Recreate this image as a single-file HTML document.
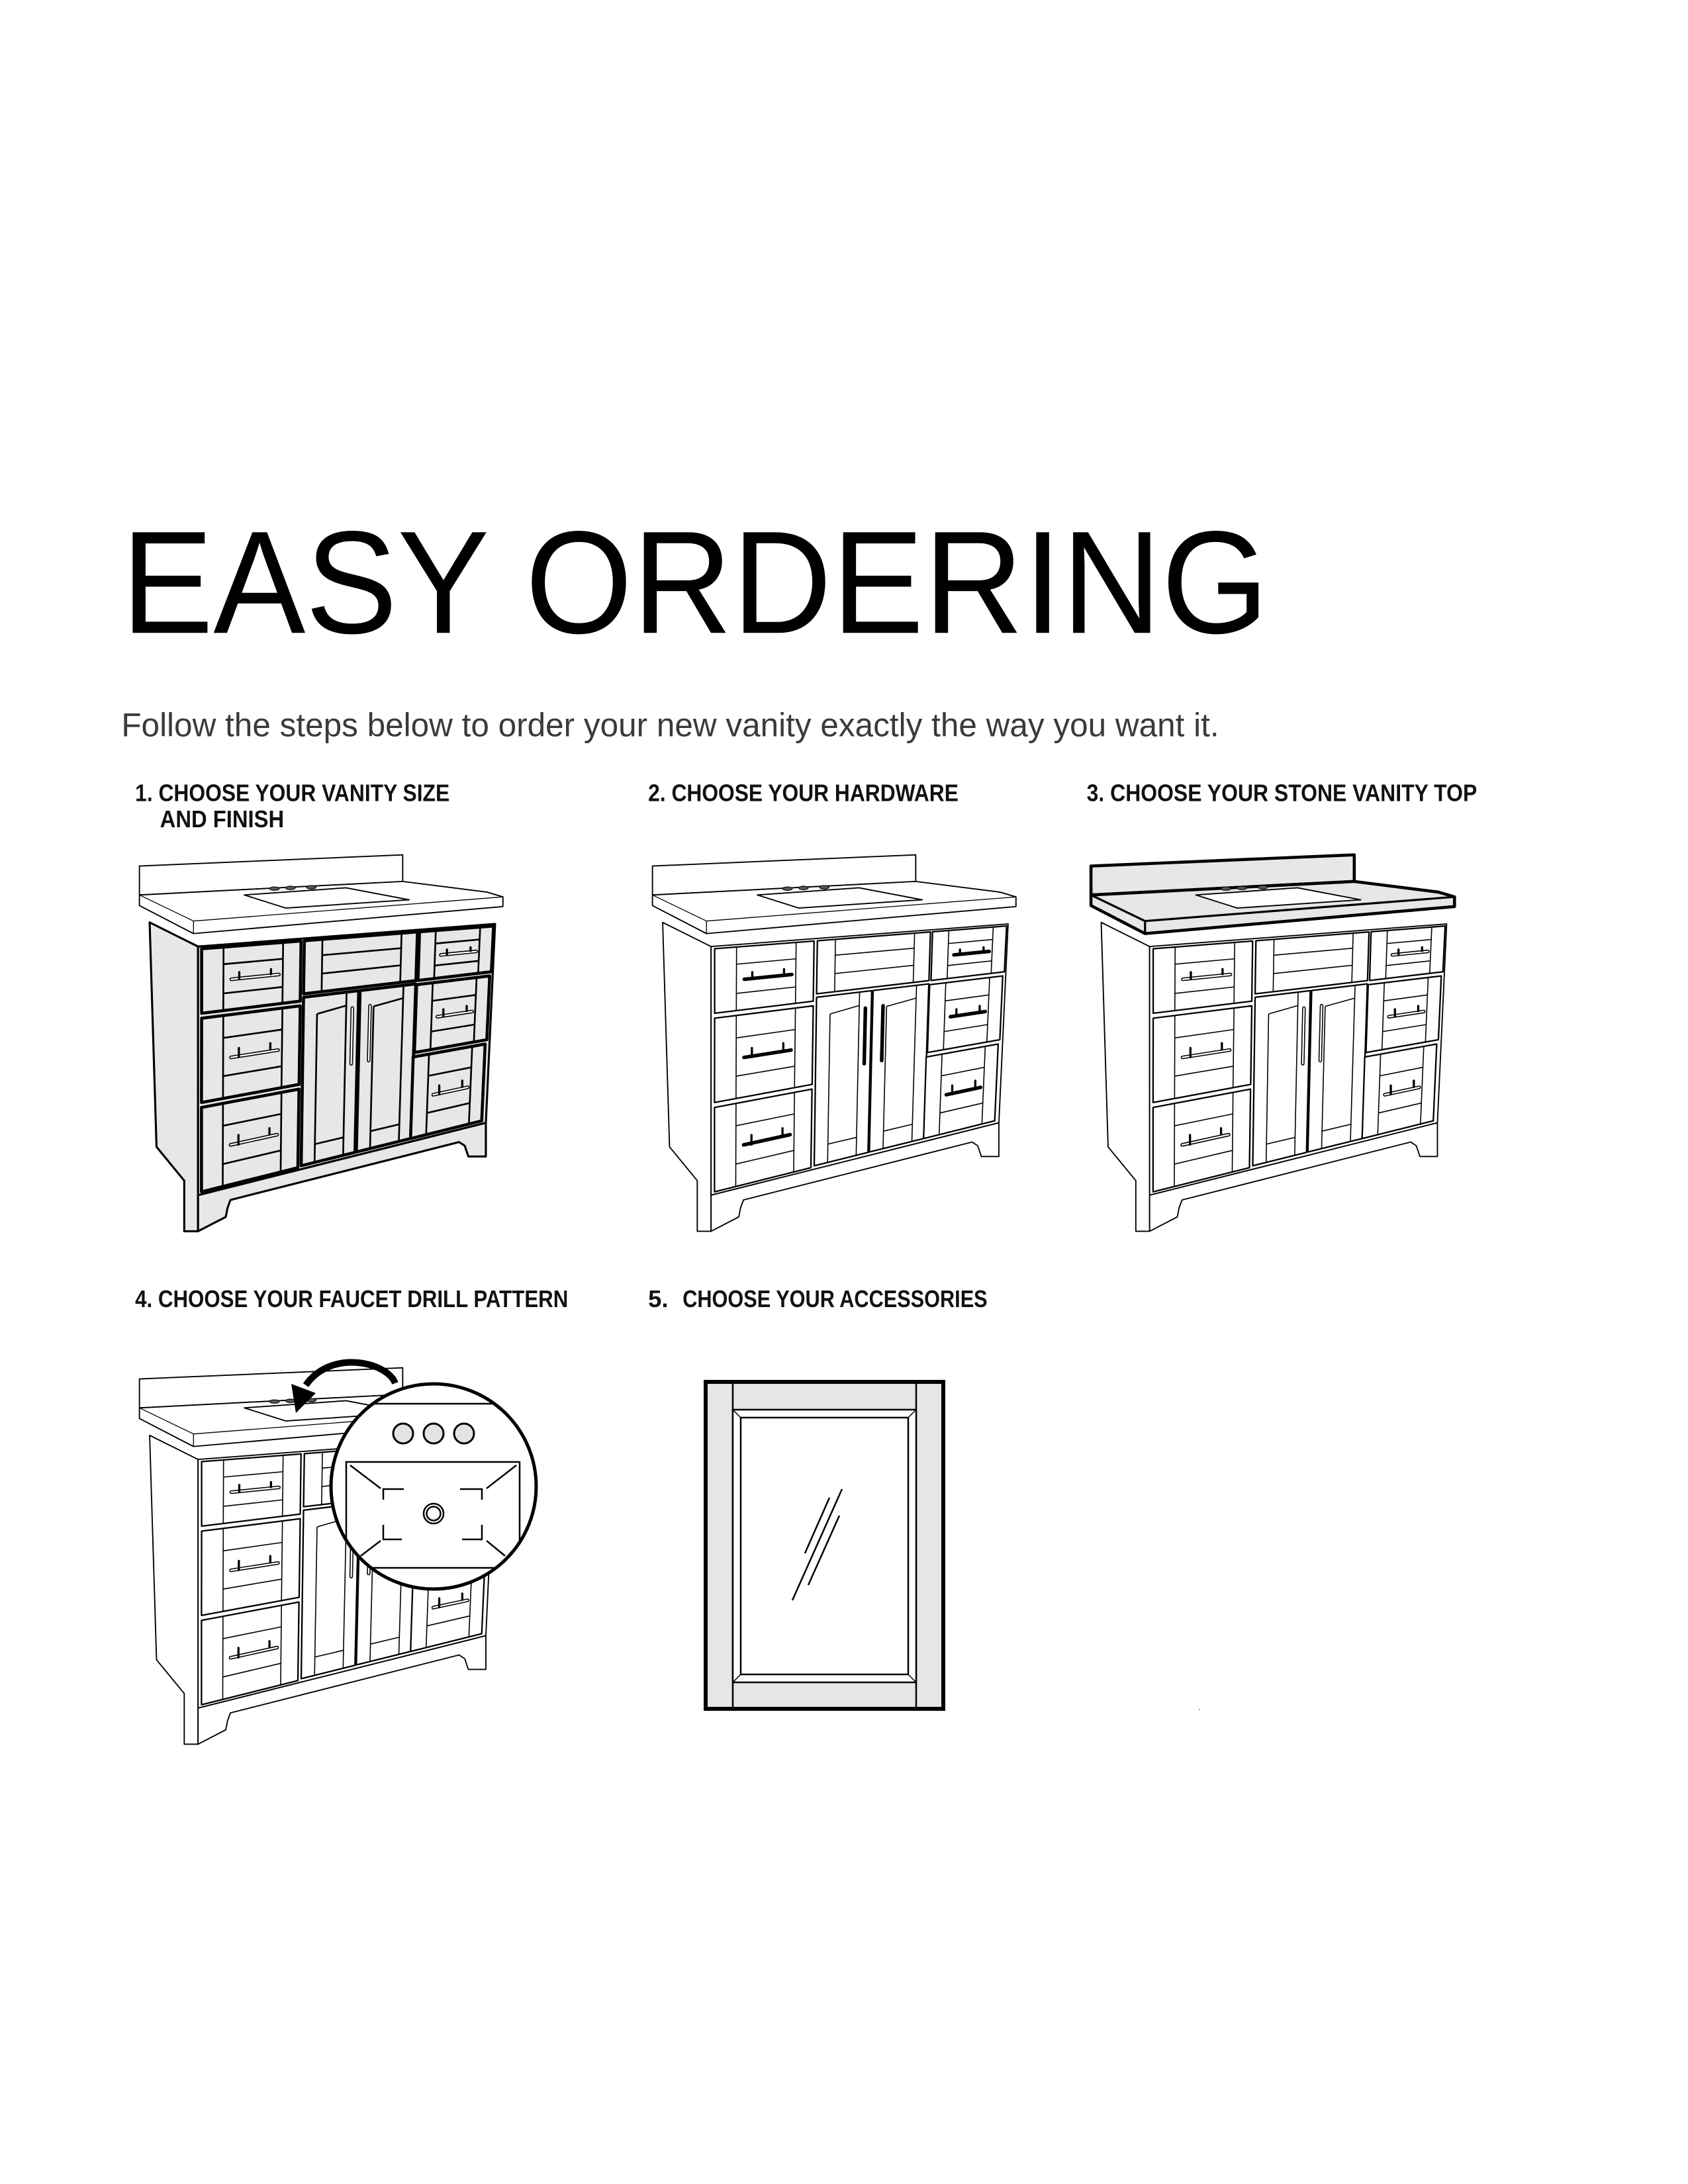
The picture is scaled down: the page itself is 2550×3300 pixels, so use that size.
<!DOCTYPE html>
<html><head><meta charset="utf-8"><style>
html,body{margin:0;padding:0;background:#fff}
svg{display:block}
text{font-family:"Liberation Sans",sans-serif}
</style></head><body>
<svg id="s" xmlns="http://www.w3.org/2000/svg" width="2550" height="3300" viewBox="0 0 2550 3300">
<rect width="2550" height="3300" fill="#fff"/>
<g transform="scale(2.083333)">
<text x="88" y="459" font-size="106" fill="#000" textLength="832" lengthAdjust="spacingAndGlyphs">EASY ORDERING</text>
<text x="88" y="534" font-size="24" fill="#3a3a3a" textLength="796" lengthAdjust="spacingAndGlyphs">Follow the steps below to order your new vanity exactly the way you want it.</text>
<g font-weight="bold" font-size="17.5" fill="#111">
<text x="98" y="581" textLength="228" lengthAdjust="spacingAndGlyphs">1. CHOOSE YOUR VANITY SIZE</text>
<text x="116" y="600" textLength="90" lengthAdjust="spacingAndGlyphs">AND FINISH</text>
<text x="470" y="581" textLength="225" lengthAdjust="spacingAndGlyphs">2. CHOOSE YOUR HARDWARE</text>
<text x="788" y="581" textLength="283" lengthAdjust="spacingAndGlyphs">3. CHOOSE YOUR STONE VANITY TOP</text>
<text x="98" y="948" textLength="314" lengthAdjust="spacingAndGlyphs">4. CHOOSE YOUR FAUCET DRILL PATTERN</text>
<text x="470" y="948">5.</text>
<text x="495" y="948" textLength="221" lengthAdjust="spacingAndGlyphs">CHOOSE YOUR ACCESSORIES</text>
</g>
<g id="vans"></g>
</g>
<g id="extra">
<defs><clipPath id="cc"><circle cx="655" cy="2215" r="155"/></clipPath></defs>
<g transform="translate(0,18)">
<path d="M597 2072 C585 2040 500 2020 462 2075" fill="none" stroke="#000" stroke-width="10"/>
<polygon points="440,2073 477,2087 447,2117" fill="#000"/>
</g>
<g transform="translate(0,31)">
<circle cx="655" cy="2215" r="155" fill="#fff" stroke="#000" stroke-width="5"/>
<g clip-path="url(#cc)" stroke="#000" fill="none" stroke-width="2.5">
<line x1="480" y1="2090" x2="830" y2="2090"/>
<line x1="480" y1="2338" x2="830" y2="2338"/>
<polyline points="523,2338 523,2178 785,2178 785,2338"/>
<line x1="529" y1="2183" x2="575" y2="2218"/><line x1="780" y1="2183" x2="735" y2="2218"/>
<line x1="575" y1="2297" x2="545" y2="2320"/><line x1="735" y1="2297" x2="763" y2="2320"/>
<path d="M579 2235 V2219 H610 M695 2219 H728 V2235 M579 2273 V2295 H607 M698 2295 H728 V2273"/>
<circle cx="655" cy="2256" r="15"/><circle cx="655" cy="2256" r="10.5"/>
</g>
<g fill="#e2e3e4" stroke="#000" stroke-width="3">
<circle cx="609" cy="2135" r="15"/><circle cx="655" cy="2135" r="15"/><circle cx="701" cy="2135" r="15"/>
</g>
</g>
<g transform="translate(0,20)">
<rect x="1066" y="2068" width="359" height="494" fill="#e5e6e7" stroke="#000" stroke-width="6"/>
<line x1="1107" y1="2071" x2="1107" y2="2559" stroke="#000" stroke-width="2.5"/>
<line x1="1384" y1="2071" x2="1384" y2="2559" stroke="#000" stroke-width="2.5"/>
<rect x="1107" y="2110" width="277" height="412" fill="#fff" stroke="#000" stroke-width="2.5"/>
<rect x="1119" y="2122" width="253" height="388" fill="#fff" stroke="#000" stroke-width="2.5"/>
<g stroke="#000" stroke-width="1.5">
<line x1="1107" y1="2110" x2="1119" y2="2122"/><line x1="1384" y1="2110" x2="1372" y2="2122"/>
<line x1="1107" y1="2522" x2="1119" y2="2510"/><line x1="1384" y1="2522" x2="1372" y2="2510"/>
</g>
<g stroke="#000" stroke-width="2.5">
<line x1="1272" y1="2230" x2="1197" y2="2398"/>
<line x1="1253" y1="2243" x2="1216" y2="2327"/>
<line x1="1268" y1="2270" x2="1221" y2="2375"/>
</g>
</g>
<circle cx="1812" cy="2583" r="1" fill="#888"/>
</g>
</svg>
<script>
(function(){
function L(a,b,t){return [a[0]+(b[0]-a[0])*t,a[1]+(b[1]-a[1])*t];}
var TL=[141.6,678.5],TR=[357,662.1],BL=[141.6,858.8],BR=[350.3,806.3];
function P(u,v){var a=L(TL,TR,u),b=L(BL,BR,u);return L(a,b,v);}
function f(p){return p[0].toFixed(1)+','+p[1].toFixed(1);}
function quad(u0,v0,u1,v1){return [P(u0,v0),P(u1,v0),P(u1,v1),P(u0,v1)].map(f).join(' ');}
function line(a,b){return '<line x1="'+a[0].toFixed(1)+'" y1="'+a[1].toFixed(1)+'" x2="'+b[0].toFixed(1)+'" y2="'+b[1].toFixed(1)+'"/>';}
function van(ox,oy,o){
 var s='<g transform="translate('+ox+','+oy+')" stroke="#000" stroke-linejoin="round" stroke-width="'+o.sw+'" fill="'+o.fill+'">';
 s+='<polygon fill="'+o.top+'" stroke-width="'+o.tsw+'" points="99.1,620.1 290,612 290,631.3 99.1,641.1"/>';
 s+='<polygon fill="'+o.top+'" stroke-width="'+o.tsw+'" points="99.1,641.1 290,631.3 351,639 362.7,642.5 362.7,649.5 138.3,669.1 99.1,648.8"/>';
 s+='<polyline fill="none" stroke-width="'+(o.tsw*0.7)+'" points="99.1,641.1 138.3,660 362.7,642.5"/>';
 s+='<line x1="138.3" y1="660" x2="138.3" y2="669.1" stroke-width="'+(o.tsw*0.7)+'"/>';
 s+='<polygon fill="#fff" stroke-width="0.9" points="175.1,641.1 248.8,635.9 294.7,644.6 205.3,650.6"/>';
 s+='<g fill="#555" stroke-width="0.5"><ellipse cx="197" cy="636.5" rx="3.5" ry="1.3"/><ellipse cx="208.6" cy="636" rx="3.5" ry="1.3"/><ellipse cx="223.7" cy="635.5" rx="3.5" ry="1.3"/></g>';
 s+='<polygon points="106.5,661 141.6,678.5 141.6,885 131.6,885 131.6,848.3 111.5,823.8"/>';
 s+='<polygon points="141.6,858.8 350.3,806.3 350.3,830.8 337.6,830.8 335,823 330.9,820.3 165.1,862.3 163,868 161.7,874.6 141.6,885"/>';
 s+='<polygon points="'+[TL,TR,BR,BL].map(f).join(' ')+'"/>';
 var hs=o.handle;
 function drawer(u0,v0,u1,v1){
  var w=u1-u0,h=v1-v0;
  s+='<polygon points="'+quad(u0,v0,u1,v1)+'" stroke-width="'+o.dsw+'"/>';
  s+='<g fill="none" stroke-width="'+(o.sw*0.85)+'">';
  s+=line(P(u0+0.22*w,v0),P(u0+0.22*w,v1));
  s+=line(P(u0+0.82*w,v0),P(u0+0.82*w,v1));
  s+=line(P(u0+0.22*w,v0+0.27*h),P(u0+0.82*w,v0+0.27*h));
  s+=line(P(u0+0.22*w,v0+0.73*h),P(u0+0.82*w,v0+0.73*h));
  s+='</g>';
  var a=P(u0+0.3*w,v0+0.52*h),b=P(u0+0.78*w,v0+0.52*h);
  s+='<g fill="none" stroke-linecap="round">';
  s+='<line x1="'+a[0]+'" y1="'+a[1]+'" x2="'+b[0]+'" y2="'+b[1]+'" stroke="#000" stroke-width="2.6"/>';
  if(hs) s+='<line x1="'+a[0]+'" y1="'+a[1]+'" x2="'+b[0]+'" y2="'+b[1]+'" stroke="'+hs+'" stroke-width="1.1"/>';
  var p1=P(u0+0.38*w,v0+0.42*h),p2=P(u0+0.7*w,v0+0.42*h);
  s+=line(p1,[p1[0],a[1]-0.3]).replace('/>',' stroke-width="1.6"/>')+line(p2,[p2[0],b[1]-0.3]).replace('/>',' stroke-width="1.6"/>');
  s+='</g>';
 }
 function door(u0,u1,hu){
  var v0=0.255,v1=0.985,w=u1-u0;
  s+='<polygon points="'+quad(u0,v0,u1,v1)+'" stroke-width="'+o.dsw+'"/>';
  s+='<g fill="none" stroke-width="'+(o.sw*0.85)+'">';
  s+=line(P(u0+0.25*w,v0+0.08),P(u0+0.25*w,v1));
  s+=line(P(u0+0.78*w,v0),P(u0+0.78*w,v1));
  s+=line(P(u0+0.25*w,v0+0.08),P(u0+0.78*w,v0+0.06));
  s+=line(P(u0+0.25*w,v1-0.08),P(u0+0.78*w,v1-0.08));
  s+='</g>';
  var a=P(hu,0.33),b=P(hu,0.58);
  s+='<line x1="'+a[0]+'" y1="'+a[1]+'" x2="'+b[0]+'" y2="'+b[1]+'" stroke="#000" stroke-width="2.6" stroke-linecap="round"/>';
  if(hs) s+='<line x1="'+a[0]+'" y1="'+a[1]+'" x2="'+b[0]+'" y2="'+b[1]+'" stroke="'+hs+'" stroke-width="1.1" stroke-linecap="round"/>';
 }
 drawer(0.012,0.01,0.347,0.27);
 drawer(0.012,0.29,0.347,0.63);
 drawer(0.012,0.65,0.347,0.99);
 var u0=0.358,u1=0.739,w=u1-u0;
 s+='<polygon points="'+quad(u0,0.01,u1,0.24)+'" stroke-width="'+o.dsw+'"/>';
 s+='<g fill="none" stroke-width="'+(o.sw*0.85)+'">'+line(P(u0+0.16*w,0.01),P(u0+0.16*w,0.24))+line(P(u0+0.86*w,0.01),P(u0+0.86*w,0.24))+line(P(u0+0.16*w,0.08),P(u0+0.86*w,0.08))+line(P(u0+0.16*w,0.16),P(u0+0.86*w,0.16))+'</g>';
 door(0.358,0.545,0.525);
 door(0.55,0.739,0.585);
 drawer(0.746,0.01,0.995,0.24);
 drawer(0.742,0.26,0.99,0.58);
 drawer(0.738,0.60,0.985,0.985);
 s+='</g>';
 return s;
}
var g=document.getElementById('vans');
var h='';
h+=van(2,8,{fill:'#e6e7e8',top:'#fff',sw:1.5,tsw:0.9,dsw:2.2,handle:'#fff'});
h+=van(374,8,{fill:'#fff',top:'#fff',sw:0.9,tsw:0.9,dsw:1.1,handle:null});
h+=van(692,8,{fill:'#fff',top:'#e6e7e8',sw:0.9,tsw:2.2,dsw:1.1,handle:'#fff'});
h+=van(2,380,{fill:'#fff',top:'#fff',sw:0.9,tsw:0.9,dsw:1.1,handle:'#fff'});
g.innerHTML=h;
var s=document.getElementById('s');s.appendChild(document.getElementById('extra'));
})();
</script>
</body></html>
